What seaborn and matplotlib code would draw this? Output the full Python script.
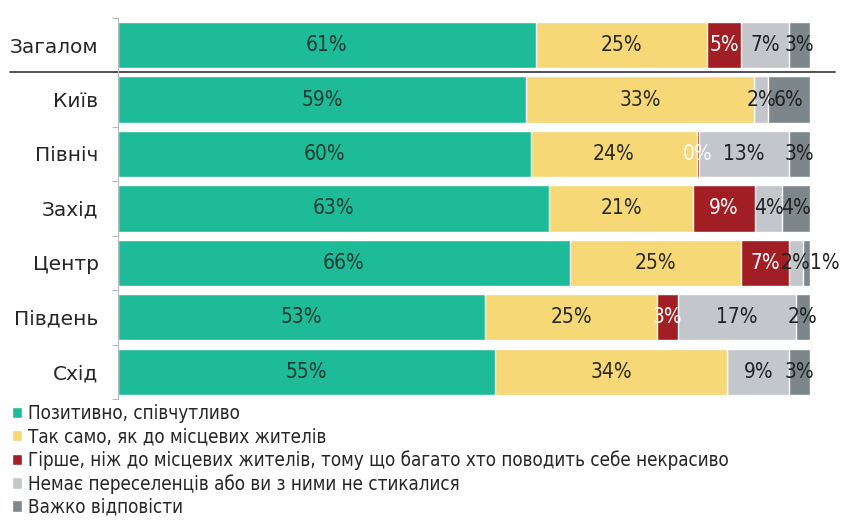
import numpy as np
import pandas as pd
import matplotlib
matplotlib.use('Agg')
import matplotlib.pyplot as plt
import seaborn as sns

regions = ['Загалом', 'Київ', 'Північ', 'Захід', 'Центр', 'Південь', 'Схід']
series_names = [
    'Позитивно, співчутливо',
    'Так само, як до місцевих жителів',
    'Гірше, ніж до місцевих жителів, тому що багато хто поводить себе некрасиво',
    'Немає переселенців або ви з ними не стикалися',
    'Важко відповісти',
]
positive = [61, 59, 60, 63, 66, 53, 55]
same = [25, 33, 24, 21, 25, 25, 34]
worse = [5, 0, 0.4, 9, 7, 3, 0]
no_contact = [7, 2, 13, 4, 2, 17, 9]
hard = [3, 6, 3, 4, 1, 2, 3]
labels = [
    ['61%', '59%', '60%', '63%', '66%', '53%', '55%'],
    ['25%', '33%', '24%', '21%', '25%', '25%', '34%'],
    ['5%', '', '0%', '9%', '7%', '3%', ''],
    ['7%', '2%', '13%', '4%', '2%', '17%', '9%'],
    ['3%', '6%', '3%', '4%', '1%', '2%', '3%'],
]
colors = ['#1DBB98', '#F6D877', '#A11E24', '#C3C7CC', '#7D878B']
label_colors = ['#1E3A32', '#2A2A22', 'white', '#222222', '#222222']

values = np.array([positive, same, worse, no_contact, hard], dtype=float)
shares = values / values.sum(axis=0) * 100
cum = np.cumsum(shares, axis=0)

sns.set_style('white')
plt.rcParams['font.family'] = ['DejaVu Sans']
plt.rcParams['font.stretch'] = 'condensed'

fig = plt.figure(figsize=(8.46, 5.25), dpi=100)
ax = fig.add_axes([0.1395, 0.24, 0.8175, 0.726])

# overlay cumulative bars, longest first
for i in range(len(series_names) - 1, -1, -1):
    df = pd.DataFrame({'region': regions, 'value': cum[i]})
    sns.barplot(data=df, x='value', y='region', orient='h', color=colors[i],
                width=0.85, saturation=1, ax=ax, label=series_names[i])

last = len(series_names) - 1
for i in range(len(series_names)):
    starts = cum[i] - shares[i]
    for j in range(len(regions)):
        if not labels[i][j]:
            continue
        if i == last and shares[i][j] < 1.5:
            # too thin: put the label just past the bar end
            x, ha = cum[i][j], 'left'
        else:
            x, ha = starts[j] + shares[i][j] / 2, 'center'
        ax.text(x, j, labels[i][j], ha=ha, va='center', fontsize=15,
                color=label_colors[i], fontstretch='condensed', clip_on=False)

ax.set_xlim(0, 100)
ax.set_ylim(6.5, -0.5)
ax.set_xlabel('')
ax.set_ylabel('')
ax.set_xticks([])
ax.set_yticks(range(len(regions)))
ax.set_yticklabels(regions, fontsize=14.5, fontstretch='normal')
ax.set_yticks(np.arange(-0.5, 7, 1), minor=True)
ax.tick_params(axis='y', which='major', length=0, pad=14)
ax.tick_params(axis='y', which='minor', length=4, color='#AAAAAA', left=True)
for s in ['top', 'right', 'bottom']:
    ax.spines[s].set_visible(False)
ax.spines['left'].set_color('#BBBBBB')

# separator under the total row
ax.plot([-0.156, 1.036], [0.5, 0.5], transform=ax.get_yaxis_transform(), color='#333333',
        lw=1.2, clip_on=False)

handles, leg_labels = ax.get_legend_handles_labels()
order = [leg_labels.index(n) for n in series_names]
ax.legend([handles[k] for k in order], series_names, loc='upper left',
          bbox_to_anchor=(0.005, 0.245), bbox_transform=fig.transFigure, frameon=False,
          fontsize=13.5, handlelength=0.55, handleheight=0.55, handletextpad=0.3,
          labelspacing=0.22, borderaxespad=0)

fig.savefig('out.png', dpi=100)
